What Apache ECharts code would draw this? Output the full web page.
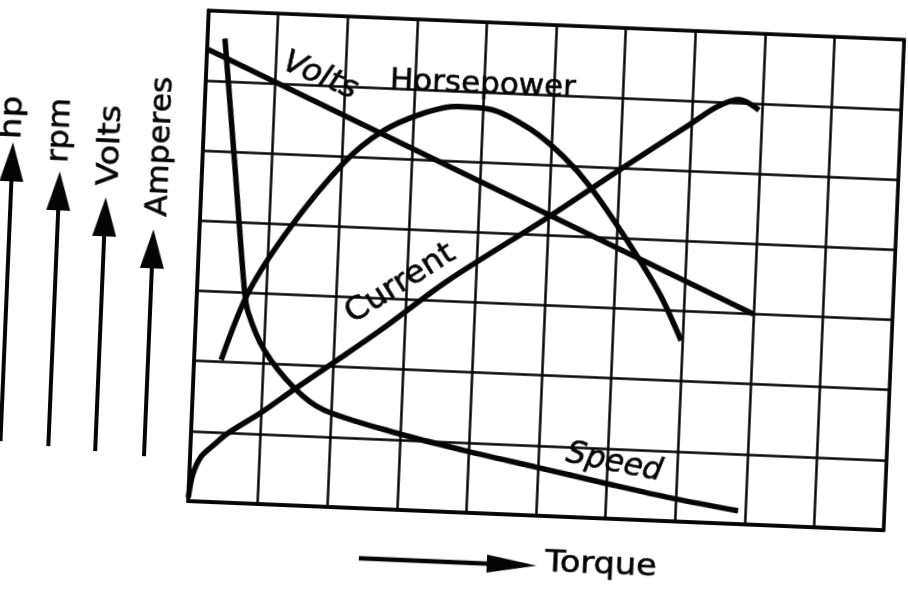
<!DOCTYPE html>
<html>
<head>
<meta charset="utf-8">
<script src="https://cdn.jsdelivr.net/npm/echarts@6/dist/echarts.min.js"></script>
<style>
    html, body { margin: 0; padding: 0; background: #fff; overflow: hidden; }
    body { width: 908px; height: 590px; position: relative; }
    /* the scan is tilted a little, so the whole drawing is turned round the page centre */
    #chart {
        position: absolute;
        left: -20px;
        top: -20px;
        width: 948px;
        height: 630px;
        transform: rotate(2.4deg);
        transform-origin: 474px 315px;
    }
</style>
</head>
<body>
<div id="chart"></div>
<script>
    // torque in grid squares (0-10), value in grid squares (0-7)
    const voltsData = [[0, 6.45], [8, 3.0]];
    const horsepowerData = [
        [0.39, 2.03], [0.74, 3.01], [1.31, 3.97], [2.04, 4.92], [2.55, 5.37],
        [3.11, 5.65], [3.63, 5.78], [4.10, 5.76], [4.69, 5.50], [5.18, 5.13],
        [5.58, 4.72], [6.14, 3.98], [6.64, 3.24], [6.98, 2.58]
    ];
    const currentData = [
        [0, 0.05], [0.05, 0.38], [0.16, 0.64], [0.34, 0.82], [0.53, 0.99],
        [0.99, 1.30], [1.45, 1.65], [2.06, 2.10], [2.66, 2.55], [3.59, 3.29],
        [5.0, 4.26], [6.0, 4.98], [6.93, 5.63], [7.35, 5.93], [7.67, 6.05], [7.96, 5.91]
    ];
    const speedData = [
        [0.25, 6.61], [0.47, 4.80], [0.68, 3.05], [0.75, 2.72], [1.0, 2.20],
        [1.45, 1.68], [1.89, 1.38], [2.96, 1.09], [3.91, 0.89], [4.98, 0.69],
        [5.99, 0.50], [6.94, 0.33], [7.9, 0.19]
    ];
    const leftLabels = ['hp', 'rpm', 'Volts', 'Amperes'];

    const ink = '#050505';
    const font = 'DejaVu Sans';

    function label(text, x, y, rot, opts) {
        opts = opts || {};
        return {
            type: 'text',
            x: x,
            y: y,
            rotation: rot,
            scaleX: opts.scaleX || 1,
            z: 10,
            style: {
                text: text,
                fill: ink,
                stroke: ink,
                lineWidth: 0.6,
                fontSize: opts.size || 31,
                fontFamily: font,
                fontStyle: opts.italic ? 'italic' : 'normal',
                align: 'center',
                verticalAlign: 'middle',
                textAlign: 'center',
                textVerticalAlign: 'middle'
            }
        };
    }

    // upward arrow used for the quantity labels on the left
    function upArrow(x, tip, bottom) {
        return [{
            type: 'line',
            shape: { x1: x, y1: tip + 30, x2: x, y2: bottom },
            style: { stroke: ink, lineWidth: 4 }
        }, {
            type: 'polygon',
            shape: { points: [[x, tip], [x - 12, tip + 39], [x + 12, tip + 39]] },
            style: { fill: ink }
        }];
    }

    let myChart = echarts.init(document.getElementById('chart'));

    let curve = {
        type: 'line',
        showSymbol: false,
        smooth: 0.3,
        lineStyle: { color: ink, width: 5.5 },
        silent: true
    };

    let graphics = [];
    let lx = [26, 74, 125, 175];
    let ly = [156, 167, 180, 179];
    let ax = [27, 75, 122, 171];
    let tips = [181, 208, 232, 262];
    let bottoms = [480, 483, 486, 489];
    let scales = [1.1, 1.03, 1.08, 1.02];
    for (let i in leftLabels) {
        graphics.push(label(leftLabels[i], lx[i], ly[i], Math.PI / 2, { scaleX: scales[i] }));
        graphics = graphics.concat(upArrow(ax[i], tips[i], bottoms[i]));
    }
    // torque arrow
    graphics.push({
        type: 'line',
        shape: { x1: 390, y1: 582, x2: 530, y2: 582 },
        style: { stroke: ink, lineWidth: 4.5 }
    });
    graphics.push({
        type: 'polygon',
        shape: { points: [[568, 582], [518, 573], [518, 591]] },
        style: { fill: ink }
    });
    graphics.push(label('Torque', 632, 579, 0, { scaleX: 1.08 }));
    // curve names
    graphics.push(label('Horsepower', 494, 104, 0));
    graphics.push(label('Volts', 331, 102, -0.36, { italic: true, scaleX: 1.04 }));
    graphics.push(label('Current', 420, 306, 0.604, { scaleX: 1.06 }));
    graphics.push(label('Speed', 641, 476, -0.157, { italic: true }));

    myChart.setOption({
        animation: false,
        grid: {
            left: 217,
            top: 41,
            width: 696,
            height: 491,
            show: true,
            borderColor: ink,
            borderWidth: 3.5
        },
        xAxis: {
            type: 'value',
            min: 0,
            max: 10,
            interval: 1,
            axisLabel: { show: false },
            axisTick: { show: false },
            axisLine: { show: true, lineStyle: { color: ink, width: 3.5 } },
            splitLine: { show: true, lineStyle: { color: ink, width: 2.5 } }
        },
        yAxis: {
            type: 'value',
            min: 0,
            max: 7,
            interval: 1,
            axisLabel: { show: false },
            axisTick: { show: false },
            axisLine: { show: true, lineStyle: { color: ink, width: 3.5 } },
            splitLine: { show: true, lineStyle: { color: ink, width: 2.5 } }
        },
        series: [
            Object.assign({}, curve, { name: 'Volts', smooth: false, data: voltsData }),
            Object.assign({}, curve, { name: 'Horsepower', data: horsepowerData }),
            Object.assign({}, curve, { name: 'Current', data: currentData }),
            Object.assign({}, curve, { name: 'Speed', data: speedData })
        ],
        graphic: graphics
    });
</script>
</body>
</html>
